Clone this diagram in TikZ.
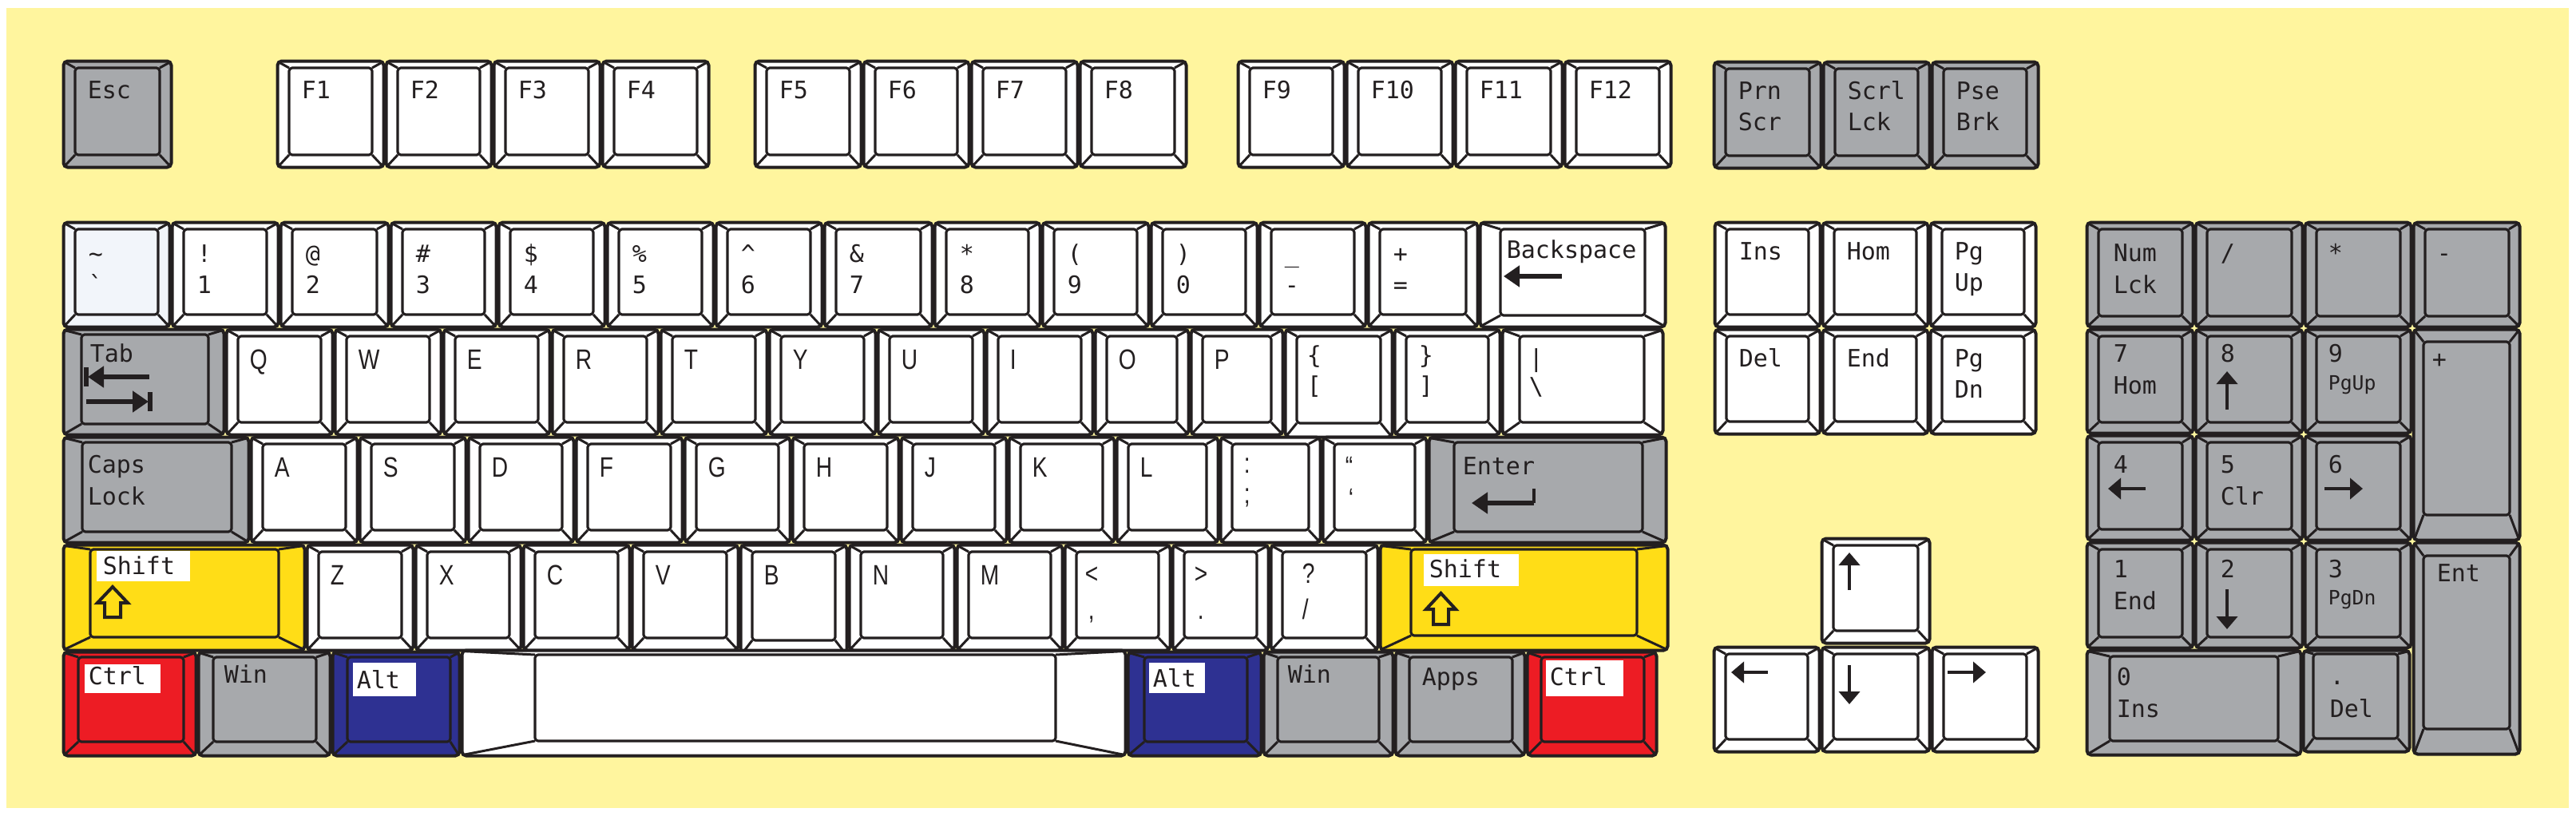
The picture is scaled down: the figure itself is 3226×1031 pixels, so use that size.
\documentclass[tikz,border=0pt]{standalone}
\usepackage{fontspec}
\usetikzlibrary{arrows.meta}
\newfontfamily\monof{DejaVu Sans Mono}
\newfontfamily\letf{Liberation Sans}[FakeStretch=0.8]
\definecolor{bgy}{HTML}{FFF59E}
\definecolor{kgrey}{HTML}{A7A9AC}
\definecolor{kyel}{HTML}{FFDD17}
\definecolor{kred}{HTML}{ED1C24}
\definecolor{kblue}{HTML}{2E3192}
\definecolor{kline}{HTML}{231F20}
\definecolor{kpale}{HTML}{F2F5FA}
\newcounter{lbc}
\tikzset{
 outerline/.style={draw=kline, line width=1pt, rounded corners=1.3pt},
 innerline/.style={draw=kline, line width=0.8pt, rounded corners=1pt},
 bevline/.style={draw=kline, line width=0.75pt},
 lbl/.style={font=\monof\fontsize{7.5}{9}\selectfont, text=kline, inner sep=0pt, anchor=base west},
 lblsmall/.style={font=\monof\fontsize{6.2}{8}\selectfont, text=kline, inner sep=0pt, anchor=base west},
 ltr/.style={font=\letf\fontsize{8.8}{10}\selectfont, text=kline, inner sep=0pt, anchor=base west},
 arr/.style={draw=kline, line width=1.2pt, -{Triangle[length=4pt,width=6.5pt]}},
 bigarr/.style={draw=kline, line width=1.3pt, -{Triangle[length=5pt,width=6.5pt]}},
 tagbox/.style={fill=white},
}
\newcommand\kbev[9]{%
 \path[outerline, fill=#5] ({#1+1.5},{#2+1.5}) rectangle ({#3-1.5},{#4-1.5});
 \path[innerline] ({#1+#6},{#2+#7}) rectangle ({#3-#8},{#4-#9});
 \draw[bevline] ({#1+2.5},{#2+2.5}) -- ({#1+#6},{#2+#7});
 \draw[bevline] ({#3-2.5},{#2+2.5}) -- ({#3-#8},{#2+#7});
 \draw[bevline] ({#1+2.5},{#4-2.5}) -- ({#1+#6},{#4-#9});
 \draw[bevline] ({#3-2.5},{#4-2.5}) -- ({#3-#8},{#4-#9});
}
\newcommand\kcap[5]{\kbev{#1}{#2}{#3}{#4}{#5}{16}{10}{16}{17}}
\newcommand\ktxt[3]{\stepcounter{lbc}\node[lbl] (t\arabic{lbc}) at (#1,#2) {#3};}
\newcommand\ktxts[3]{\stepcounter{lbc}\node[lblsmall] (t\arabic{lbc}) at (#1,#2) {#3};}
\newcommand\ktxtl[3]{\stepcounter{lbc}\node[ltr] (t\arabic{lbc}) at (#1,#2) {#3};}
\newcommand\kcapt[7]{\kcap{#1}{#2}{#3}{#4}{#5}\ktxt{{#1+31}}{{#2+48}}{#6}\ktxt{{#1+31}}{{#2+87}}{#7}}
\newcommand\knum[4]{\kcap{#1}{277}{#2}{411}{white}\ktxt{{#1+32}}{328}{#3}\ktxt{{#1+32}}{367}{#4}}
\newcommand\kl[5]{\kcap{#1}{#2}{#3}{#4}{white}\ktxtl{{#1+30}}{{#2+51}}{#5}}
\begin{document}
\begin{tikzpicture}[x=0.25pt,y=-0.25pt]
\useasboundingbox (0,0) rectangle (3226,1031);
\fill[white] (0,0) rectangle (3226,1031);
\fill[bgy] (8,10) rectangle (3217,1012);
% ---------- function row
\kcapt{78}{75}{216}{211}{kgrey}{Esc}{}
\kcapt{346}{75}{482}{211}{white}{F1}{}
\kcapt{482}{75}{617}{211}{white}{F2}{}
\kcapt{617}{75}{753}{211}{white}{F3}{}
\kcapt{753}{75}{889}{211}{white}{F4}{}
\kcapt{944}{75}{1080}{211}{white}{F5}{}
\kcapt{1080}{75}{1215}{211}{white}{F6}{}
\kcapt{1215}{75}{1351}{211}{white}{F7}{}
\kcapt{1351}{75}{1487}{211}{white}{F8}{}
\kcapt{1549}{75}{1685}{211}{white}{F9}{}
\kcapt{1685}{75}{1821}{211}{white}{F10}{}
\kcapt{1821}{75}{1958}{211}{white}{F11}{}
\kcapt{1958}{75}{2094}{211}{white}{F12}{}
\kcapt{2145}{76}{2282}{212}{kgrey}{Prn}{Scr}
\kcapt{2282}{76}{2418}{212}{kgrey}{Scrl}{Lck}
\kcapt{2418}{76}{2554}{212}{kgrey}{Pse}{Brk}
% ---------- number row
\kcap{78}{277}{214}{411}{kpale}\ktxt{110}{328}{\textasciitilde}\ktxt{110}{367}{\textasciigrave}
\knum{214}{350}{!}{1}
\knum{350}{488}{@}{2}
\knum{488}{623}{\#}{3}
\knum{623}{759}{\$}{4}
\knum{759}{895}{\%}{5}
\knum{895}{1031}{\textasciicircum}{6}
\knum{1031}{1169}{\&}{7}
\knum{1169}{1304}{*}{8}
\knum{1304}{1440}{(}{9}
\knum{1440}{1576}{)}{0}
\knum{1576}{1712}{\_}{-}
\knum{1712}{1852}{+}{=}
\kbev{1852}{277}{2087}{411}{white}{27}{10}{27}{16}
\ktxt{1886}{323}{Backspace}
\coordinate (bs1) at (1956,346); \coordinate (bs2) at (1883,346);
\draw[bigarr] (bs1) -- (bs2);
% ---------- tab row
\kbev{78}{411}{282}{546}{kgrey}{24}{8}{21}{15}
\ktxt{112}{453}{Tab}
\coordinate (ta1) at (187,472); \coordinate (ta2) at (110,472);
\draw[bigarr] (ta1) -- (ta2);
\draw[kline, line width=1.5pt] (108,460) -- (108,484);
\coordinate (tb1) at (108,503); \coordinate (tb2) at (186,503);
\draw[bigarr] (tb1) -- (tb2);
\draw[kline, line width=1.5pt] (188,491) -- (188,515);
\kl{282}{411}{418}{546}{Q}
\kl{418}{411}{554}{546}{W}
\kl{554}{411}{690}{546}{E}
\kl{690}{411}{826}{546}{R}
\kl{826}{411}{962}{546}{T}
\kl{962}{411}{1098}{546}{Y}
\kl{1098}{411}{1234}{546}{U}
\kl{1234}{411}{1370}{546}{I}
\kl{1370}{411}{1490}{546}{O}
\kl{1490}{411}{1608}{546}{P}
\kbev{1608}{411}{1745}{549}{white}{16}{10}{16}{19}
\ktxt{1636}{455}{\{}\ktxt{1636}{493}{[}
\kcap{1745}{411}{1880}{546}{white}
\ktxt{1776}{455}{\}}\ktxt{1776}{493}{]}
\kbev{1880}{411}{2084}{546}{white}{23}{10}{25}{17}
\ktxt{1914}{459}{|}\ktxt{1914}{494}{\textbackslash}
% ---------- caps row
\kbev{78}{546}{313}{681}{kgrey}{25}{8}{23}{15}
\ktxt{109}{592}{Caps}\ktxt{109}{632}{Lock}
\kl{313}{546}{449}{681}{A}
\kl{449}{546}{585}{681}{S}
\kl{585}{546}{720}{681}{D}
\kl{720}{546}{856}{681}{F}
\kl{856}{546}{991}{681}{G}
\kl{991}{546}{1127}{681}{H}
\kl{1127}{546}{1262}{681}{J}
\kl{1262}{546}{1397}{681}{K}
\kl{1397}{546}{1527}{681}{L}
\kcap{1527}{546}{1655}{681}{white}
\ktxtl{1557}{592}{:}\ktxtl{1557}{630}{;}
\kcap{1655}{546}{1788}{681}{white}
\ktxtl{1684}{596}{“}\ktxtl{1688}{636}{‘}
\kbev{1788}{546}{2088}{681}{kgrey}{33}{8}{31}{15}
\ktxt{1831}{594}{Enter}
\coordinate (en1) at (1921,612); \coordinate (en2) at (1921,630); \coordinate (en3) at (1843,630);
\draw[kline, line width=1.2pt] (en1) -- (en2);
\draw[bigarr] (en2) -- (en3);
% ---------- shift row
\kbev{78}{681}{383}{816}{kyel}{35}{7}{34}{18}
\fill[white] (121,690) rectangle (238,728);
\ktxt{128}{719}{Shift}
\draw[kline, line width=1pt, line join=miter] (141,735) -- (160,755) -- (151,755) -- (151,773) -- (131,773) -- (131,755) -- (122,755) -- cycle;
\kl{383}{681}{519}{816}{Z}
\kl{519}{681}{654}{816}{X}
\kl{654}{681}{790}{816}{C}
\kl{790}{681}{926}{816}{V}
\kbev{926}{681}{1062}{822}{white}{16}{10}{16}{20}
\ktxtl{956}{732}{B}
\kl{1062}{681}{1197}{816}{N}
\kl{1197}{681}{1332}{816}{M}
\kcap{1332}{681}{1467}{816}{white}
\ktxtl{1358}{730}{<}\ktxtl{1362}{775}{,}
\kcap{1467}{681}{1590}{816}{white}
\ktxtl{1495}{730}{>}\ktxtl{1499}{775}{.}
\kcap{1590}{681}{1727}{816}{white}
\ktxtl{1630}{730}{?}\ktxtl{1630}{775}{/}
\kbev{1727}{681}{2090}{816}{kyel}{40}{7}{40}{20}
\fill[white] (1783,694) rectangle (1902,734);
\ktxt{1789}{723}{Shift}
\draw[kline, line width=1pt, line join=miter] (1804.5,743) -- (1823,763) -- (1814,763) -- (1814,782) -- (1795,782) -- (1795,763) -- (1786,763) -- cycle;
% ---------- bottom row
\kbev{78}{815}{247}{948}{kred}{20}{8}{17}{19}
\fill[white] (106,832) rectangle (201,868);
\ktxt{110}{857}{Ctrl}
\kbev{247}{815}{415}{948}{kgrey}{20}{8}{19}{19}
\ktxt{280}{855}{Win}
\kbev{415}{815}{577}{948}{kblue}{20}{8}{13}{19}
\fill[white] (442,830) rectangle (521,872);
\ktxt{446}{862}{Alt}
\kbev{577}{813}{1411}{948}{white}{93}{7}{89}{20}
\kbev{1411}{815}{1581}{948}{kblue}{22}{8}{19}{19}
\fill[white] (1439,830) rectangle (1509,868);
\ktxt{1443}{860}{Alt}
\kbev{1581}{815}{1746}{948}{kgrey}{19}{8}{19}{19}
\ktxt{1612}{855}{Win}
\kbev{1746}{815}{1911}{948}{kgrey}{19}{8}{17}{19}
\ktxt{1780}{858}{Apps}
\kbev{1911}{815}{2076}{948}{kred}{19}{8}{17}{19}
\fill[white] (1936,827) rectangle (2033,872);
\ktxt{1940}{858}{Ctrl}
% ---------- navigation cluster
\kcapt{2146}{277}{2281}{411}{white}{Ins}{}
\kcapt{2281}{277}{2416}{411}{white}{Hom}{}
\kcapt{2416}{277}{2551}{411}{white}{Pg}{Up}
\kcapt{2146}{411}{2281}{545}{white}{Del}{}
\kcapt{2281}{411}{2416}{545}{white}{End}{}
\kcapt{2416}{411}{2551}{545}{white}{Pg}{Dn}
% ---------- arrow keys
\kcap{2280}{673}{2418}{807}{white}
\kcap{2145}{809}{2280}{943}{white}
\kcap{2280}{809}{2418}{943}{white}
\kcap{2418}{809}{2554}{943}{white}
\coordinate (au1) at (2316,739); \coordinate (au2) at (2316,692);
\draw[arr] (au1) -- (au2);
\coordinate (al1) at (2214,842); \coordinate (al2) at (2168,842);
\draw[arr] (al1) -- (al2);
\coordinate (ad1) at (2316,833); \coordinate (ad2) at (2316,882);
\draw[arr] (ad1) -- (ad2);
\coordinate (ar1) at (2439,842); \coordinate (ar2) at (2487,842);
\draw[arr] (ar1) -- (ar2);
% ---------- numeric keypad
\kbev{2612}{277}{2748}{411}{kgrey}{16}{10}{15}{15}
\ktxt{2646}{327}{Num}\ktxt{2646}{367}{Lck}
\kbev{2748}{277}{2885}{411}{kgrey}{16}{10}{15}{15}
\ktxt{2780}{327}{/}
\kbev{2885}{277}{3021}{411}{kgrey}{16}{10}{15}{15}
\ktxt{2915}{327}{*}
\kbev{3021}{277}{3157}{411}{kgrey}{16}{10}{15}{15}
\ktxt{3051}{327}{-}
\kbev{2612}{411}{2748}{544}{kgrey}{16}{10}{15}{15}
\ktxt{2646}{453}{7}\ktxt{2646}{493}{Hom}
\kbev{2748}{411}{2885}{544}{kgrey}{16}{10}{15}{15}
\ktxt{2780}{453}{8}
\coordinate (n8a) at (2789,513); \coordinate (n8b) at (2789,465);
\draw[arr] (n8a) -- (n8b);
\kbev{2885}{411}{3021}{544}{kgrey}{16}{10}{15}{15}
\ktxt{2915}{453}{9}\ktxts{2915}{488}{PgUp}
\kbev{3021}{411}{3157}{678}{kgrey}{14}{17}{14}{33}
\ktxt{3045}{460}{+}
\kbev{2612}{544}{2748}{678}{kgrey}{16}{10}{15}{15}
\ktxt{2646}{592}{4}
\coordinate (n4a) at (2687,612); \coordinate (n4b) at (2640,612);
\draw[arr] (n4a) -- (n4b);
\kbev{2748}{544}{2885}{678}{kgrey}{16}{10}{15}{15}
\ktxt{2780}{592}{5}\ktxt{2780}{632}{Clr}
\kbev{2885}{544}{3021}{678}{kgrey}{16}{10}{15}{15}
\ktxt{2915}{592}{6}
\coordinate (n6a) at (2911,612); \coordinate (n6b) at (2959,612);
\draw[arr] (n6a) -- (n6b);
\kbev{2612}{678}{2748}{813}{kgrey}{16}{10}{15}{15}
\ktxt{2646}{723}{1}\ktxt{2646}{763}{End}
\kbev{2748}{678}{2885}{813}{kgrey}{16}{10}{15}{15}
\ktxt{2780}{723}{2}
\coordinate (n2a) at (2789,738); \coordinate (n2b) at (2789,788);
\draw[arr] (n2a) -- (n2b);
\kbev{2885}{678}{3021}{813}{kgrey}{16}{10}{15}{15}
\ktxt{2915}{723}{3}\ktxts{2915}{757}{PgDn}
\kbev{3021}{678}{3157}{946}{kgrey}{14}{18}{14}{33}
\ktxt{3051}{728}{Ent}
\kbev{2612}{813}{2883}{947}{kgrey}{30}{9}{30}{19}
\ktxt{2650}{858}{0}\ktxt{2650}{898}{Ins}
\kbev{2883}{813}{3019}{943}{kgrey}{14}{6}{16}{18}
\ktxt{2917}{857}{.}\ktxt{2917}{898}{Del}
\end{tikzpicture}
\end{document}
